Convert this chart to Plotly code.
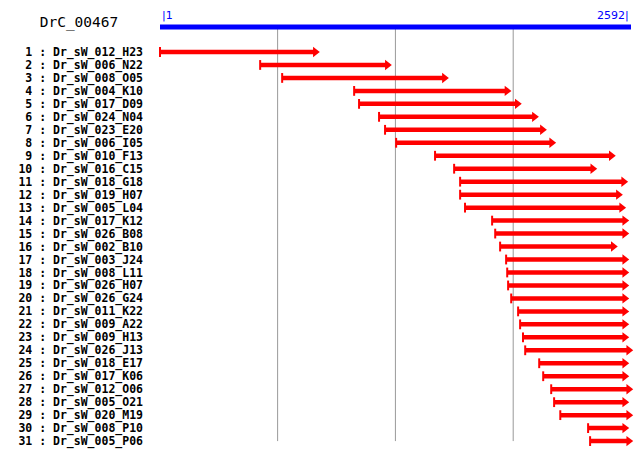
import plotly.graph_objects as go

contig = "DrC_00467"
seq_len = 2592
clone_names = [
    "Dr_sW_012_H23", "Dr_sW_006_N22", "Dr_sW_008_O05", "Dr_sW_004_K10", "Dr_sW_017_D09",
    "Dr_sW_024_N04", "Dr_sW_023_E20", "Dr_sW_006_I05", "Dr_sW_010_F13", "Dr_sW_016_C15",
    "Dr_sW_018_G18", "Dr_sW_019_H07", "Dr_sW_005_L04", "Dr_sW_017_K12", "Dr_sW_026_B08",
    "Dr_sW_002_B10", "Dr_sW_003_J24", "Dr_sW_008_L11", "Dr_sW_026_H07", "Dr_sW_026_G24",
    "Dr_sW_011_K22", "Dr_sW_009_A22", "Dr_sW_009_H13", "Dr_sW_026_J13", "Dr_sW_018_E17",
    "Dr_sW_017_K06", "Dr_sW_012_O06", "Dr_sW_005_O21", "Dr_sW_020_M19", "Dr_sW_008_P10",
    "Dr_sW_005_P06",
]
starts = [1, 552, 673, 1069, 1096, 1206, 1239, 1300, 1514, 1619,
          1652, 1652, 1679, 1828, 1845, 1872, 1905, 1911, 1916, 1933,
          1971, 1982, 1998, 2010, 2087, 2109, 2153, 2169, 2203, 2356, 2367]
ends = [884, 1280, 1594, 1938, 1995, 2089, 2133, 2184, 2512, 2410,
        2580, 2551, 2569, 2586, 2586, 2523, 2586, 2586, 2586, 2586,
        2586, 2586, 2586, 2608, 2586, 2586, 2608, 2586, 2608, 2586, 2608]
grid_positions = [648, 1296, 1944]

RED = "#ff0000"
BLUE = "#0000ff"
GRAY = "#999999"

plot_left, plot_right = 160, 631
px_per_unit = (plot_right - plot_left) / (seq_len - 1)
head_size = 9
head_back_units = (1.155 * head_size / 2) / px_per_unit  # tip offset from marker centre

rows = list(range(1, len(clone_names) + 1))
labels = [f"{r} : {n}" for r, n in zip(rows, clone_names)]

fig = go.Figure()

# sequence bar
fig.add_trace(go.Scatter(x=[1, seq_len], y=[-0.93, -0.93], mode="lines",
                         line=dict(color=BLUE, width=5), hoverinfo="skip", showlegend=False))

# grid lines
for g in grid_positions:
    fig.add_shape(type="line", x0=g, x1=g, y0=-0.78, y1=31.0, xref="x", yref="y",
                  line=dict(color=GRAY, width=1), layer="below")

# shafts
sx, sy = [], []
for s, e, r in zip(starts, ends, rows):
    sx += [s, e - head_back_units, None]
    sy += [r, r, None]
fig.add_trace(go.Scatter(x=sx, y=sy, mode="lines", line=dict(color=RED, width=4.5),
                         hoverinfo="skip", showlegend=False))

# start ticks
fig.add_trace(go.Scatter(x=starts, y=rows, mode="markers", cliponaxis=False,
                         marker=dict(symbol="line-ns", size=7, line=dict(color=RED, width=2)),
                         hoverinfo="skip", showlegend=False))

# arrow heads
fig.add_trace(go.Scatter(x=[e - head_back_units for e in ends], y=rows, mode="markers",
                         cliponaxis=False,
                         marker=dict(symbol="triangle-right", size=head_size, color=RED,
                                     line=dict(width=0)),
                         hoverinfo="skip", showlegend=False))

fig.add_annotation(x=1, y=-1.85, xref="x", yref="y", text="|1", showarrow=False,
                   xanchor="left", yanchor="middle",
                   font=dict(family="DejaVu Sans", size=11, color=BLUE))
fig.add_annotation(x=seq_len, y=-1.85, xref="x", yref="y", text=f"{seq_len}|", showarrow=False,
                   xanchor="right", yanchor="middle",
                   font=dict(family="DejaVu Sans", size=11, color=BLUE))

fig.update_layout(
    width=640, height=463,
    margin=dict(l=plot_left, r=640 - plot_right, t=0, b=0),
    paper_bgcolor="white", plot_bgcolor="white",
    showlegend=False,
    title=dict(text=contig, x=79 / 640, y=1 - 22 / 463, xanchor="center", yanchor="middle",
               font=dict(family="DejaVu Sans Mono", size=14.5, color="black")),
    xaxis=dict(range=[1, seq_len], visible=False, fixedrange=True),
    yaxis=dict(range=[32.69, -3.009], tickvals=rows, ticktext=labels,
               showgrid=False, zeroline=False, showline=False, ticks="",
               ticklabelstandoff=16, fixedrange=True,
               tickfont=dict(family="DejaVu Sans Mono", size=11.5, color="black", weight="bold")),
)

fig.write_html("out.html", config={"displayModeBar": False},
               post_script="document.body.style.margin='0px';")
